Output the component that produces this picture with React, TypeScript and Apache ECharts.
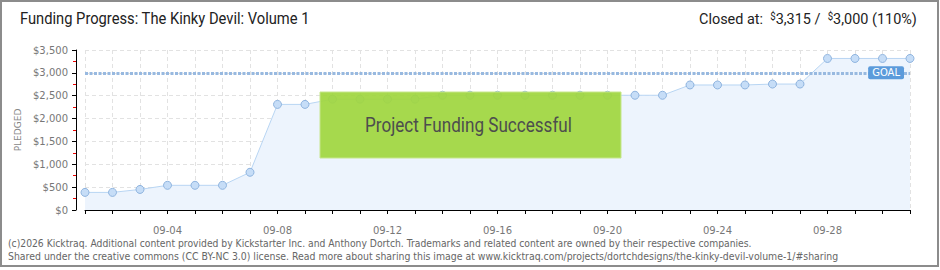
import React, { useEffect, useRef } from "react";
import * as echarts from "echarts";

const dates = [
  "09-01", "09-02", "09-03", "09-04", "09-05", "09-06", "09-07", "09-08",
  "09-09", "09-10", "09-11", "09-12", "09-13", "09-14", "09-15", "09-16",
  "09-17", "09-18", "09-19", "09-20", "09-21", "09-22", "09-23", "09-24",
  "09-25", "09-26", "09-27", "09-28", "09-29", "09-30", "10-01",
];
const pledged = [
  385, 385, 450, 540, 540, 540, 825, 2310,
  2310, 2425, 2425, 2425, 2425, 2510, 2510, 2510,
  2510, 2510, 2510, 2510, 2510, 2510, 2735, 2735,
  2735, 2755, 2755, 3315, 3315, 3315, 3315,
];
const goal = 3000;
const titleText = "Funding Progress: The Kinky Devil: Volume 1";
const closedParts = ["Closed at:  ", "$", "3,315 /  ", "$", "3,000 (110%)"];
const bannerText = "Project Funding Successful";
const footerLines = [
  "(c)2026 Kicktraq. Additional content provided by Kickstarter Inc. and Anthony Dortch. Trademarks and related content are owned by their respective companies.",
  "Shared under the creative commons (CC BY-NC 3.0) license. Read more about sharing this image at www.kicktraq.com/projects/dortchdesigns/the-kinky-devil-volume-1/#sharing",
];

const measure = (() => {
  const c = document.createElement("canvas");
  const ctx = c.getContext("2d")!;
  return (text: string, font: string) => {
    ctx.font = font;
    return ctx.measureText(text).width;
  };
})();

export default function App() {
  const ref = useRef<HTMLDivElement>(null);
  useEffect(() => {
    if (!ref.current) return;
    const chart = echarts.init(ref.current, null, { renderer: "svg" });

    const titleFont = "16px Roboto";
    const titleScale = 290 / measure(titleText, titleFont);

    const bigFont = "15px Roboto";
    const smallFont = "10px Roboto";
    let closedW = 0;
    closedParts.forEach((p, i) => {
      closedW += measure(p, i === 1 || i === 3 ? smallFont : bigFont);
    });
    const closedScale = 218 / closedW;

    const bannerFont = "20px Roboto";
    const bannerScale = 207 / measure(bannerText, bannerFont);

    const footFont = "10px 'DejaVu Sans'";
    const footScales = [745 / measure(footerLines[0], footFont), 831 / measure(footerLines[1], footFont)];

    chart.setOption({
      animation: false,
      grid: { left: 85, right: 30, top: 50, bottom: 60 },
      xAxis: {
        type: "category",
        data: dates,
        boundaryGap: false,
        offset: 10,
        axisLine: { lineStyle: { color: "#000", width: 1 } },
        axisTick: { show: true, interval: 0, length: 4, lineStyle: { color: "#000" } },
        axisLabel: {
          interval: (i: number) => (i + 1) % 4 === 0 && i < 30,
          color: "#777",
          fontSize: 10,
          fontFamily: "DejaVu Sans",
          margin: 5,
        },
        splitLine: { show: true, interval: 0, lineStyle: { color: "#e2e2e2", type: [4, 3] } },
      },
      yAxis: {
        type: "value",
        min: 0,
        max: 3500,
        interval: 500,
        offset: 9,
        name: "PLEDGED",
        nameLocation: "middle",
        nameGap: 49,
        nameTextStyle: { color: "#888", fontSize: 9, fontFamily: "DejaVu Sans" },
        axisLine: { show: true, lineStyle: { color: "#000" } },
        axisTick: { show: true, length: 4, lineStyle: { color: "#000" } },
        minorTick: { show: true, splitNumber: 2, length: 3, lineStyle: { color: "#e00" } },
        axisLabel: {
          formatter: (v: number) => "$" + v.toLocaleString("en-US"),
          color: "#777",
          fontSize: 10,
          fontFamily: "DejaVu Sans",
          margin: 8,
        },
        splitLine: { show: true, lineStyle: { color: "#e2e2e2", type: [4, 3] } },
      },
      series: [
        {
          type: "line",
          data: pledged,
          symbol: "circle",
          symbolSize: 8,
          itemStyle: { color: "#c6ddf7", borderColor: "#8fb4df", borderWidth: 1 },
          lineStyle: { color: "#b8d5f3", width: 1 },
          areaStyle: { color: "#edf4fd", opacity: 1 },
          markLine: {
            silent: true,
            symbol: "none",
            data: [{ yAxis: goal }],
            lineStyle: { color: "#98b9e0", type: [3, 1.5], width: 3 },
            label: {
              formatter: "GOAL",
              position: "insideEnd",
              backgroundColor: "#5c9bdb",
              color: "#fff",
              fontSize: 10,
              fontFamily: "DejaVu Sans",
              padding: [2, 4, 1, 4],
              borderRadius: 2,
              distance: 6,
            },
          },
        },
      ],
      graphic: [
        {
          type: "rect",
          shape: { x: 1, y: 1, width: 937, height: 265 },
          style: { fill: "none", stroke: "#8c8c8c", lineWidth: 2 },
          z: 200,
        },
        {
          type: "text",
          x: 20,
          y: 19,
          scaleX: titleScale,
          style: { text: titleText, font: titleFont, fill: "#222", verticalAlign: "middle" },
        },
        {
          type: "text",
          x: 699,
          y: 19,
          scaleX: closedScale,
          style: {
            text: "{a|" + closedParts[0] + "}{s|$}{a|" + closedParts[2] + "}{s|$}{a|" + closedParts[4] + "}",
            verticalAlign: "middle",
            rich: {
              a: { font: bigFont, fill: "#222", color: "#222" },
              s: { font: smallFont, fill: "#222", color: "#222", verticalAlign: "top", padding: [0, 0, 6, 0] },
            },
          },
        },
        {
          type: "text",
          x: 862,
          y: 172,
          z: 1,
          style: { text: "K", font: "italic 80px 'DejaVu Serif'", fill: "rgba(0,0,0,0.025)", align: "center", verticalAlign: "middle" },
        },
        {
          type: "rect",
          z: 100,
          shape: { x: 320, y: 92, width: 301, height: 66 },
          style: { fill: "rgba(160,214,64,0.93)", stroke: "#c6e68c", lineWidth: 1 },
        },
        {
          type: "text",
          z: 101,
          x: 365,
          y: 126,
          scaleX: bannerScale,
          style: {
            text: bannerText,
            font: bannerFont,
            fill: "#4d4d4d",
            verticalAlign: "middle",
            textShadowColor: "#fff",
            textShadowOffsetX: 1,
            textShadowOffsetY: 1,
            textShadowBlur: 0,
          },
        },
        {
          type: "text",
          x: 8,
          y: 243,
          scaleX: footScales[0],
          style: { text: footerLines[0], font: footFont, fill: "#666", verticalAlign: "middle" },
        },
        {
          type: "text",
          x: 8,
          y: 256,
          scaleX: footScales[1],
          style: { text: footerLines[1], font: footFont, fill: "#666", verticalAlign: "middle" },
        },
      ],
    });
    return () => chart.dispose();
  }, []);
  return (
    <div
      ref={ref}
      style={{ position: "absolute", left: 0, top: 0, width: 940, height: 270, background: "#fff" }}
    />
  );
}
